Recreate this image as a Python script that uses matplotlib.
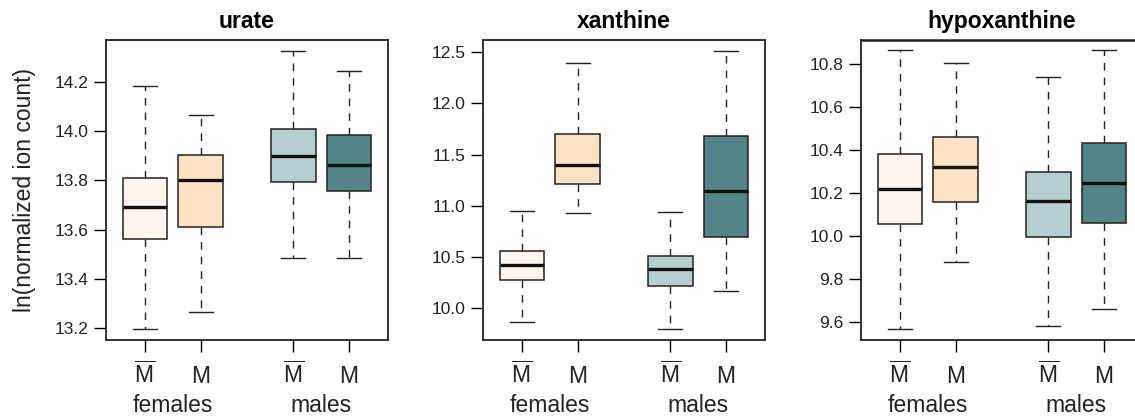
import matplotlib
matplotlib.use("Agg")
import matplotlib.pyplot as plt
import matplotlib.transforms as mtransforms

plt.rcParams['font.family'] = ['Liberation Sans', 'DejaVu Sans']
plt.rcParams['mathtext.fontset'] = 'custom'
plt.rcParams['mathtext.rm'] = 'Liberation Sans'

# metabolites (panels)
titles = ['urate', 'xanthine', 'hypoxanthine']
groups = ['females', 'males']
# box order: females M-bar, females M, males M-bar, males M
box_colors = ['#fdf5ee', '#fde3c6', '#b5cfce', '#528488']

# whisker low, Q1, median, Q3, whisker high
urate = [
    [13.199, 13.561, 13.693, 13.811, 14.184],
    [13.265, 13.612, 13.801, 13.903, 14.065],
    [13.486, 13.793, 13.897, 14.009, 14.324],
    [13.486, 13.758, 13.864, 13.984, 14.243],
]
xanthine = [
    [9.867, 10.277, 10.423, 10.560, 10.954],
    [10.931, 11.217, 11.400, 11.706, 12.399],
    [9.801, 10.218, 10.387, 10.511, 10.938],
    [10.166, 10.700, 11.146, 11.686, 12.513],
]
hypoxanthine = [
    [9.571, 10.054, 10.219, 10.380, 10.862],
    [9.878, 10.158, 10.319, 10.462, 10.802],
    [9.584, 9.998, 10.161, 10.296, 10.740],
    [9.662, 10.062, 10.248, 10.431, 10.862],
]
data = [urate, xanthine, hypoxanthine]

yticks = [
    [13.2, 13.4, 13.6, 13.8, 14.0, 14.2],
    [10.0, 10.5, 11.0, 11.5, 12.0, 12.5],
    [9.6, 9.8, 10.0, 10.2, 10.4, 10.6, 10.8],
]
ylims = [(13.153, 14.369), (9.69, 12.62), (9.518, 10.91)]

positions = [1, 2, 3.65, 4.65]
xlabels = [r'$\overline{\mathrm{M}}$', 'M', r'$\overline{\mathrm{M}}$', 'M']

W, H = 1135, 416
fig = plt.figure(figsize=(W / 100, H / 100), dpi=100)
lefts = [106, 483, 861]
width = 282
top, bottom = 40, 340
txt = '#222222'

for i in range(3):
    ax = fig.add_axes([lefts[i] / W, 1 - bottom / H, width / W, (bottom - top) / H])
    stats = []
    for d in data[i]:
        stats.append({'whislo': d[0], 'q1': d[1], 'med': d[2], 'q3': d[3],
                      'whishi': d[4], 'fliers': []})
    bp = ax.bxp(stats, positions=positions, widths=0.8, patch_artist=True,
                showfliers=False,
                boxprops=dict(edgecolor='#222222', linewidth=1.1),
                medianprops=dict(color='#111111', linewidth=2.4, solid_capstyle='butt'),
                whiskerprops=dict(color='#222222', linewidth=1.0, linestyle=(0, (5.5, 5))),
                capprops=dict(color='#222222', linewidth=1.0),
                capwidths=0.43)
    for patch, c in zip(bp['boxes'], box_colors):
        patch.set_facecolor(c)
    for wl in bp['whiskers']:
        wl.set_zorder(1)

    ax.set_xlim(0.304, 5.346)
    ax.set_ylim(*ylims[i])
    ax.set_yticks(yticks[i])
    ax.set_yticklabels([f'{t:.1f}' for t in yticks[i]], fontsize=12.5, color=txt)
    ax.set_xticks(positions)
    ax.set_xticklabels([])
    ax.tick_params(axis='y', length=8.5, width=1.0, pad=4)
    ax.tick_params(axis='x', length=8.5, width=1.0)
    for s in ax.spines.values():
        s.set_linewidth(1.3)
        s.set_color('#222222')
    if i == 2:
        ax.spines['top'].set_linewidth(1.8)
    ax.set_title(titles[i], fontsize=16.5, fontweight='bold', pad=8.5)

    trans = mtransforms.blended_transform_factory(ax.transData, ax.transAxes)
    for p, lab in zip(positions, xlabels):
        ax.text(p, -0.143, lab, transform=trans, ha='center', va='baseline',
                fontsize=16.5, color=txt)
    for g, name in enumerate(groups):
        xc = (positions[2 * g] + positions[2 * g + 1]) / 2
        ax.text(xc, -0.24, name, transform=trans, ha='center', va='baseline',
                fontsize=16.5, color=txt)

    if i == 0:
        ax.set_ylabel('ln(normalized ion count)', fontsize=16.5, color=txt)
        ax.yaxis.set_label_coords(-70 / width, 0.5)

fig.savefig('out.png', dpi=100)
